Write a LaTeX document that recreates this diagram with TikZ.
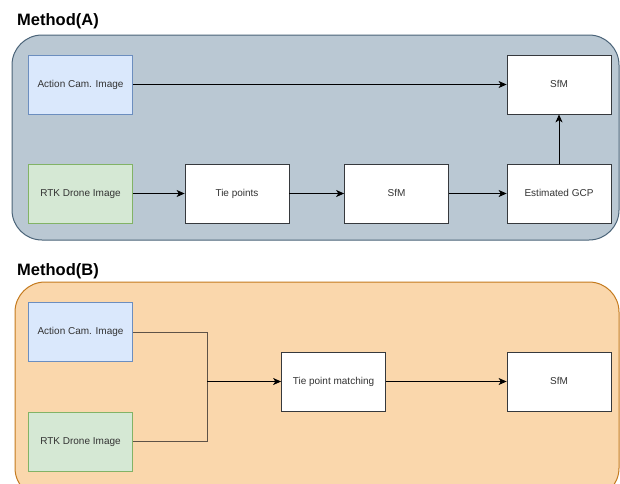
\documentclass[tikz,border=0pt]{standalone}
\usepackage{fontspec}
\setmainfont{Liberation Sans}
\usepackage{xcolor}
\usetikzlibrary{arrows.meta,positioning}
\definecolor{grpAfill}{HTML}{BAC8D3}
\definecolor{grpAline}{HTML}{4A6378}
\definecolor{grpBfill}{HTML}{FAD7AC}
\definecolor{grpBline}{HTML}{C47A1E}
\definecolor{camfill}{HTML}{DAE8FC}
\definecolor{camline}{HTML}{6C8EBF}
\definecolor{rtkfill}{HTML}{D5E8D4}
\definecolor{rtkline}{HTML}{82B366}
\definecolor{boxline}{HTML}{36393D}
\definecolor{mrgline}{HTML}{5E5247}

\begin{document}
\begin{tikzpicture}[
  x=1pt,y=-1pt,
  font=\fontsize{10}{12}\selectfont,
  cam/.style={rectangle,draw=camline,fill=camfill,text=black!80,line width=0.8pt,
              minimum width=104pt,minimum height=59pt,inner sep=0pt,
              text height=7.2pt,text depth=2pt},
  rtk/.style={cam,draw=rtkline,fill=rtkfill},
  proc/.style={cam,draw=boxline,fill=white},
  grp/.style={rectangle,rounded corners=30pt,line width=1pt,inner sep=0pt},
  ttl/.style={anchor=west,font=\fontsize{16.5}{18}\selectfont\bfseries,inner sep=0pt},
  lk/.style={black,line width=0.9pt,-{Stealth[length=8pt,width=7pt,inset=2.2pt]}},
  jn/.style={mrgline,line width=1pt}]

\clip (0,0) rectangle (620,483);

% ================= Method (A) =================
\node[ttl] (tA) at (17,21) {Method(A)};
\node[grp,draw=grpAline,fill=grpAfill,minimum width=607pt,minimum height=205pt]
  (grpA) at (315.5,137.5) {};
\node[cam]  (camA)   at (80.5,84.5)   {Action Cam. Image};
\node[rtk]  (rtkA)   at (80.5,193.5)  {RTK Drone Image};
\node[proc] (tieA)   at (237,193.5)   {Tie points};
\node[proc] (sfmA)   at (396.5,193.5) {SfM};
\node[proc] (gcpA)   at (559,193.5)   {Estimated GCP};
\node[proc] (sfmTop) at (559,84.5)    {SfM};
\draw[lk] (camA) -- (sfmTop);
\draw[lk] (rtkA) -- (tieA);
\draw[lk] (tieA) -- (sfmA);
\draw[lk] (sfmA) -- (gcpA);
\draw[lk] (gcpA) -- (sfmTop);

% ================= Method (B) =================
\node[ttl] (tB) at (17,271) {Method(B)};
\node[grp,draw=grpBline,fill=grpBfill,minimum width=604pt,minimum height=216pt]
  (grpB) at (317,390) {};
\node[cam]  (camB) at (80.5,332)   {Action Cam. Image};
\node[rtk]  (rtkB) at (80.5,441.5) {RTK Drone Image};
\node[proc] (tieB) at (333.5,381.5) {Tie point matching};
\node[proc] (sfmB) at (559,381.5)  {SfM};
% both images merge before matching
\coordinate (mrg) at (207,381.5);
\draw[jn] (camB) -| (mrg);
\draw[jn] (rtkB) -| (mrg);
\draw[lk] (mrg) -- (tieB);
\draw[lk] (tieB) -- (sfmB);
\end{tikzpicture}
\end{document}
